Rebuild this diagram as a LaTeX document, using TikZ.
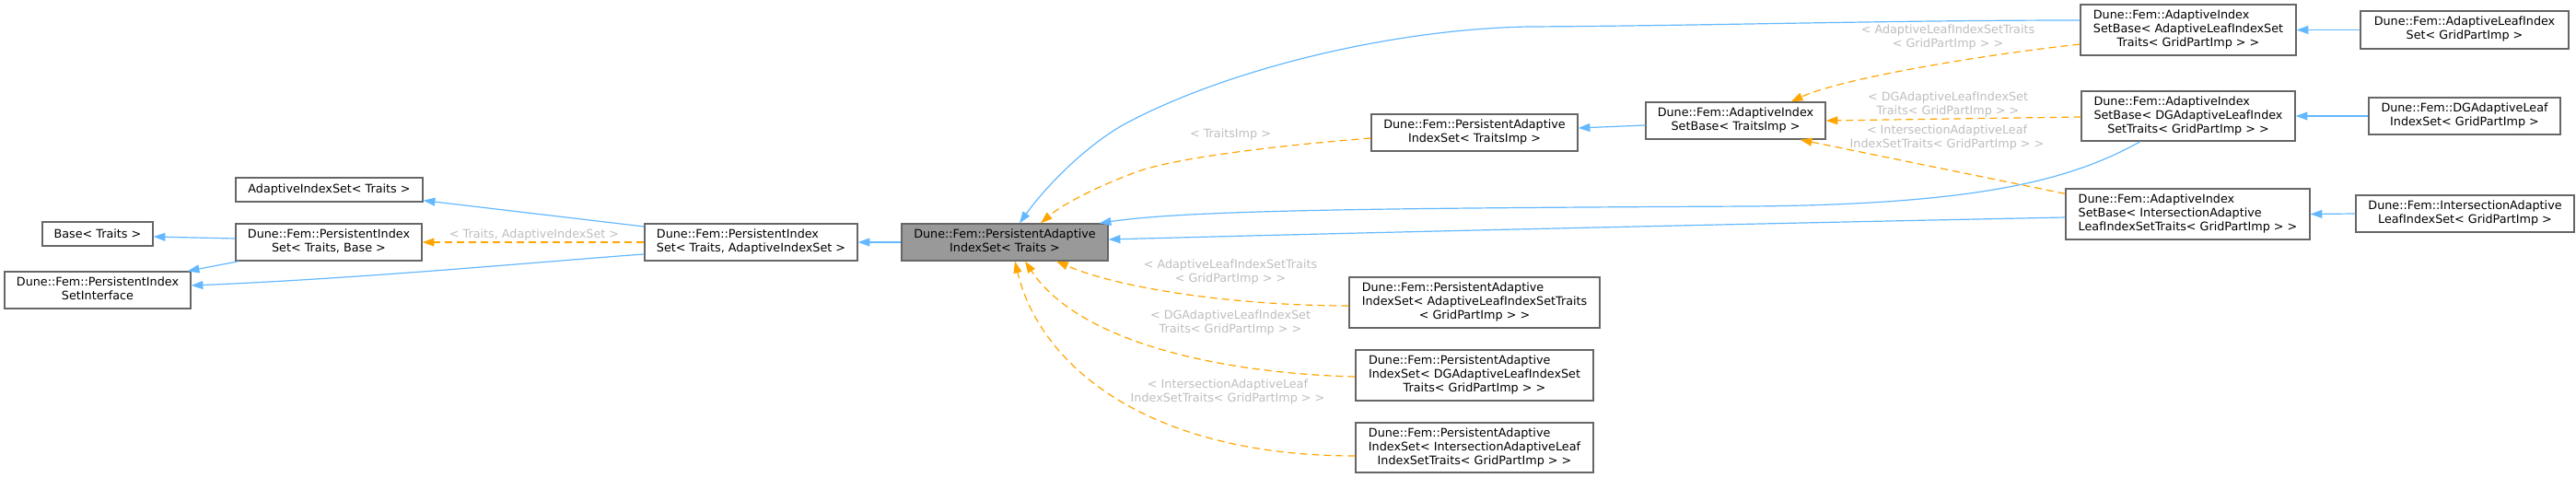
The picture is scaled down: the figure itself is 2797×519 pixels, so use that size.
\documentclass[tikz,border=0pt]{standalone}
\usepackage{fontspec}
\setmainfont{DejaVu Sans}
\usetikzlibrary{arrows.meta}
\definecolor{bordergray}{HTML}{666666}
\definecolor{mainfill}{HTML}{999999}
\definecolor{edgeblue}{HTML}{63B8FF}
\definecolor{edgeorange}{HTML}{FFA500}
\definecolor{labelgray}{HTML}{BEBEBE}
\newcommand{\dxone}[1]{#1}
\newcommand{\dxtwo}[2]{\begin{tabular}{@{}l@{}}#1\\\multicolumn{1}{@{}c@{}}{#2}\end{tabular}}
\newcommand{\dxthree}[3]{\begin{tabular}{@{}l@{}}#1\\#2\\\multicolumn{1}{@{}c@{}}{#3}\end{tabular}}
\begin{document}
\begin{tikzpicture}[x=1pt,y=-1pt,
  cls/.style={draw=bordergray, fill=white, line width=1.3pt, inner sep=0pt,
    font=\fontsize{12.75}{15}\selectfont, anchor=center},
  mainnode/.style={cls, fill=mainfill},
  lbl/.style={text=labelgray, inner sep=0pt, align=center,
    font=\fontsize{12.75}{15}\selectfont},
  inh/.style={draw=edgeblue, line width=1.2pt, -{Triangle[length=12.75pt,width=8.9pt]}},
  tmpl/.style={draw=edgeorange, line width=1.2pt, dash pattern=on 8pt off 5pt,
    -{Triangle[length=12.75pt,width=8.9pt]}}]
\useasboundingbox (0,0) rectangle (2797,519);

% nodes
\node[cls, minimum width=203pt, minimum height=26pt] (n_ais) at (357.5,206) {\dxone{AdaptiveIndexSet< Traits >}};
\node[cls, minimum width=120pt, minimum height=26pt] (n_base) at (106,254) {\dxone{Base< Traits >}};
\node[cls, minimum width=202pt, minimum height=40pt] (n_pisb) at (357,263) {\dxtwo{Dune::Fem::PersistentIndex}{Set< Traits, Base >}};
\node[cls, minimum width=202pt, minimum height=40pt] (n_iface) at (106,315) {\dxtwo{Dune::Fem::PersistentIndex}{SetInterface}};
\node[cls, minimum width=231pt, minimum height=40pt] (n_pisa) at (815.5,263) {\dxtwo{Dune::Fem::PersistentIndex}{Set< Traits, AdaptiveIndexSet >}};
\node[mainnode, minimum width=224pt, minimum height=40pt] (n_main) at (1091,263) {\dxtwo{Dune::Fem::PersistentAdaptive}{IndexSet< Traits >}};
\node[cls, minimum width=224pt, minimum height=40pt] (n_paist) at (1601,144) {\dxtwo{Dune::Fem::PersistentAdaptive}{IndexSet< TraitsImp >}};
\node[cls, minimum width=195pt, minimum height=40pt] (n_aisbt) at (1884.5,131) {\dxtwo{Dune::Fem::AdaptiveIndex}{SetBase< TraitsImp >}};
\node[cls, minimum width=272pt, minimum height=55pt] (n_paisA) at (1601,328.5) {\dxthree{Dune::Fem::PersistentAdaptive}{IndexSet< AdaptiveLeafIndexSetTraits}{< GridPartImp > >}};
\node[cls, minimum width=258pt, minimum height=55pt] (n_paisD) at (1601,407.5) {\dxthree{Dune::Fem::PersistentAdaptive}{IndexSet< DGAdaptiveLeafIndexSet}{Traits< GridPartImp > >}};
\node[cls, minimum width=258pt, minimum height=54pt] (n_paisI) at (1601,486) {\dxthree{Dune::Fem::PersistentAdaptive}{IndexSet< IntersectionAdaptiveLeaf}{IndexSetTraits< GridPartImp > >}};
\node[cls, minimum width=234pt, minimum height=55pt] (n_aisbA) at (2376,32.5) {\dxthree{Dune::Fem::AdaptiveIndex}{SetBase< AdaptiveLeafIndexSet}{Traits< GridPartImp > >}};
\node[cls, minimum width=232pt, minimum height=54pt] (n_aisbD) at (2376,126) {\dxthree{Dune::Fem::AdaptiveIndex}{SetBase< DGAdaptiveLeafIndex}{SetTraits< GridPartImp > >}};
\node[cls, minimum width=265pt, minimum height=55pt] (n_aisbI) at (2375.5,232.5) {\dxthree{Dune::Fem::AdaptiveIndex}{SetBase< IntersectionAdaptive}{LeafIndexSetTraits< GridPartImp > >}};
\node[cls, minimum width=226pt, minimum height=41pt] (n_alis) at (2676,32.5) {\dxtwo{Dune::Fem::AdaptiveLeafIndex}{Set< GridPartImp >}};
\node[cls, minimum width=208pt, minimum height=40pt] (n_dgl) at (2676,126) {\dxtwo{Dune::Fem::DGAdaptiveLeaf}{IndexSet< GridPartImp >}};
\node[cls, minimum width=237pt, minimum height=40pt] (n_ial) at (2676.5,232) {\dxtwo{Dune::Fem::IntersectionAdaptive}{LeafIndexSet< GridPartImp >}};

% left part
\draw[inh] ([yshift=4pt]n_pisb.west) -- ([yshift=-3pt]n_base.east);
\draw[inh] ([xshift=4pt]n_pisb.south west) -- ([xshift=-4pt]n_iface.north east);
\draw[inh] ([yshift=17pt]n_pisa.west) -- ([yshift=2pt]n_ais.south east);
\draw[inh] ([yshift=-13pt]n_pisa.west) .. controls (600,283) and (400,302) .. ([yshift=5pt]n_iface.east);
\draw[tmpl] (n_pisa.west) -- (n_pisb.east);
\node[lbl] (l_tais) at (580,255) {< Traits, AdaptiveIndexSet >};
\draw[inh] (n_main.west) -- (n_pisa.east);

% edges into the main node
\draw[inh] ([yshift=10.5pt]n_aisbA.west) .. controls (2050,22) and (1850,28) .. (1660,29)
  .. controls (1500,32) and (1320,80) .. (1217,137)
  .. controls (1170,165) and (1130,210) .. ([xshift=16pt]n_main.north);
\draw[inh] ([xshift=-52pt]n_aisbD.south) .. controls (2250,195) and (2150,222) .. (1900,224)
  .. controls (1500,226) and (1290,228) .. ([xshift=-10pt]n_main.north east);
\draw[inh] ([yshift=-3.5pt]n_aisbI.west) .. controls (1900,243) and (1500,252) .. ([yshift=3pt]n_main.east);

\draw[tmpl] ([yshift=-6pt]n_paist.west) .. controls (1400,157) and (1280,170) .. (1233,187)
  .. controls (1180,207) and (1150,225) .. ([xshift=39pt]n_main.north);
\node[lbl] (l_ti) at (1336,146) {< TraitsImp >};
\draw[tmpl] ([yshift=-3.5pt]n_paisA.west) .. controls (1350,332) and (1220,315) .. ([xshift=56pt]n_main.south);
\node[lbl] (l_al) at (1336,295) {< AdaptiveLeafIndexSetTraits\\< GridPartImp > >};
\draw[tmpl] ([yshift=-1.5pt]n_paisD.west) .. controls (1320,405) and (1170,370) .. ([xshift=22pt]n_main.south);
\node[lbl] (l_dg) at (1336,350) {< DGAdaptiveLeafIndexSet\\Traits< GridPartImp > >};
\draw[tmpl] ([yshift=-9pt]n_paisI.west) .. controls (1250,495) and (1130,400) .. ([xshift=11pt]n_main.south);
\node[lbl] (l_in) at (1333,425.5) {< IntersectionAdaptiveLeaf\\IndexSetTraits< GridPartImp > >};

% right part
\draw[inh] ([yshift=-5pt]n_aisbt.west) -- ([yshift=5pt]n_paist.east);
\draw[tmpl] ([yshift=-15.5pt]n_aisbA.west) .. controls (2150,60) and (2000,85) .. ([xshift=-38pt]n_aisbt.north east);
\node[lbl] (l_al2) at (2115,40) {< AdaptiveLeafIndexSetTraits\\< GridPartImp > >};
\draw[tmpl] ([yshift=-1pt]n_aisbD.west) -- (n_aisbt.east);
\node[lbl] (l_dg2) at (2115,113) {< DGAdaptiveLeafIndexSet\\Traits< GridPartImp > >};
\draw[tmpl] ([yshift=-6pt]n_aisbI.north west) -- ([xshift=-28pt]n_aisbt.south east);
\node[lbl] (l_in2) at (2114,149) {< IntersectionAdaptiveLeaf\\IndexSetTraits< GridPartImp > >};
\draw[inh] (n_alis.west) -- (n_aisbA.east);
\draw[inh] (n_dgl.west) -- (n_aisbD.east);
\draw[inh] (n_ial.west) -- (n_aisbI.east);
\end{tikzpicture}
\end{document}
